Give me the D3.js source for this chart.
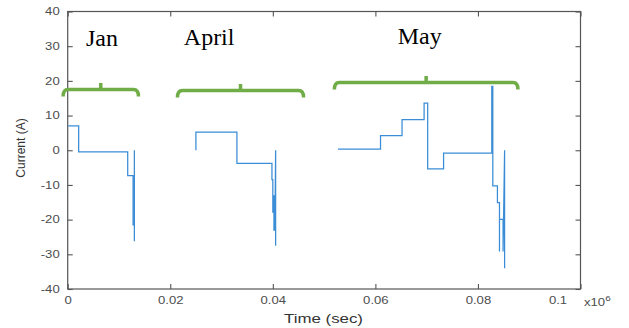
<!DOCTYPE html>
<html><head><meta charset="utf-8">
<script src="https://cdn.jsdelivr.net/npm/d3@7"></script>
<style>body{margin:0;background:#fff}</style></head>
<body><svg id="c" width="629" height="328"></svg>
<script>
// ---- data (time in units of 1e6 s, current in A) ----
const janT = [0, 0.00214, 0.00214, 0.0117, 0.0117, 0.01275, 0.01275, 0.0130, 0.0130, 0.0130];
const janI = [7, 7, -0.5, -0.5, -7.3, -7.3, -21.5, -21.5, 0, -26.2];
const aprT = [0.0250, 0.0250, 0.0330, 0.0330, 0.03983, 0.03983, 0.0400, 0.0400, 0.04022, 0.04022, 0.0404, 0.04055, 0.04055];
const aprI = [0, 5.2, 5.2, -3.8, -3.8, -8.5, -8.5, -18, -13, -23, -23, 0, -27.5];
const mayT = [0.0527, 0.0610, 0.0610, 0.0652, 0.0652, 0.0695, 0.0695, 0.0702, 0.0702, 0.0733, 0.0733, 0.0827, 0.0827, 0.0829, 0.0829, 0.0838, 0.0838, 0.0842, 0.0842, 0.0842, 0.0849, 0.0849, 0.0852, 0.0852];
const mayI = [0.3, 0.3, 4.2, 4.2, 8.8, 8.8, 13.6, 13.6, -5.4, -5.4, -0.8, -0.8, 18.4, 18.4, -10.3, -10.3, -15.1, -15.1, -29.2, -19.9, -19.9, -29.2, 0, -34];

const xTicks = [0, 0.02, 0.04, 0.06, 0.08, 0.1];
const yTicks = [-40, -30, -20, -10, 0, 10, 20, 30, 40];

// annotations
const monthLabels = ["Jan", "April", "May"];
const labelX = [0.00356, 0.02264, 0.06435];
const labelY = [30.0, 30.3, 30.5];
const braceStart = [-0.0009, 0.0214, 0.0520];
const braceEnd = [0.0138, 0.0460, 0.0878];
const braceLevel = [17.5, 17.2, 19.5];

// ---- layout ----
const L = 67.7, R = 580.5, T = 11.5, B = 289;
const SX = 1.25;
const svg = d3.select("#c");
const x = d3.scaleLinear().domain([0, 0.1]).range([L, R]);
const y = d3.scaleLinear().domain([-40, 40]).range([B, T]);

const axisColor = "#555";
const tickFont = "'Liberation Sans', Arial, Helvetica, sans-serif";

function styleAxis(g) {
  g.select(".domain").remove();
  g.selectAll(".tick line").attr("stroke", axisColor).attr("stroke-width", 1.1);
  g.selectAll(".tick text").attr("fill", "#4d4d4d").attr("font-size", 10.5).attr("font-family", tickFont);
}

// bottom
const gB = svg.append("g").attr("transform", `translate(0,${B})`)
  .call(d3.axisBottom(x).tickValues(xTicks).tickFormat(d => String(d)).tickSizeInner(-5).tickSizeOuter(0).tickPadding(8));
styleAxis(gB);
gB.selectAll(".tick text").attr("transform", `scale(${SX},1)`)
  .attr("x", d => d === 0.1 ? -23 / SX : 0);
// top
const gT = svg.append("g").attr("transform", `translate(0,${T})`)
  .call(d3.axisTop(x).tickValues(xTicks).tickFormat("").tickSizeInner(-5).tickSizeOuter(0));
styleAxis(gT);
// left
const gL = svg.append("g").attr("transform", `translate(${L},0)`)
  .call(d3.axisLeft(y).tickValues(yTicks).tickFormat(d => String(d)).tickSizeInner(-5).tickSizeOuter(0).tickPadding(8));
styleAxis(gL);
gL.selectAll(".tick text").attr("x", -8 / SX).attr("transform", `scale(${SX},1)`);
// right
const gR = svg.append("g").attr("transform", `translate(${R},0)`)
  .call(d3.axisRight(y).tickValues(yTicks).tickFormat("").tickSizeInner(-5).tickSizeOuter(0));
styleAxis(gR);

// frame
svg.append("rect").attr("x", L).attr("y", T).attr("width", R - L).attr("height", B - T)
  .attr("fill", "none").attr("stroke", axisColor).attr("stroke-width", 1.2);

// exponent
const ex = svg.append("text").attr("transform", `translate(584,306) scale(${SX},1)`)
  .attr("font-family", tickFont).attr("font-size", 10.5).attr("fill", "#4d4d4d");
ex.append("tspan").text("x10");
ex.append("tspan").attr("dy", -5).attr("font-size", 8).text("6");

// axis titles
svg.append("text").attr("transform", `translate(323.5,323) scale(${SX},1)`)
  .attr("text-anchor", "middle").attr("font-family", tickFont).attr("font-size", 13.5)
  .attr("fill", "#333").text("Time (sec)");
svg.append("text").attr("transform", `translate(25,148) rotate(-90)`)
  .attr("text-anchor", "middle").attr("font-family", tickFont).attr("font-size", 12)
  .attr("fill", "#333").text("Current (A)");

// series
const line = d3.line().x(d => x(d[0])).y(d => y(d[1]));
[[janT, janI], [aprT, aprI], [mayT, mayI]].forEach(([ts, is]) => {
  const pts = ts.map((t, i) => [t, is[i]]);
  svg.append("path").datum(pts).attr("d", line)
    .attr("fill", "none").attr("stroke", "#3a8dd6").attr("stroke-width", 1.25)
    .attr("stroke-linejoin", "miter");
});

// braces
const green = "#70ad47";
monthLabels.forEach((m, i) => {
  const x1 = x(braceStart[i]), x2 = x(braceEnd[i]), yh = y(braceLevel[i]);
  const xc = (x1 + x2) / 2;
  const p = d3.path();
  p.moveTo(x1, yh + 7);
  p.quadraticCurveTo(x1, yh, x1 + 5, yh);
  p.lineTo(x2 - 5, yh);
  p.quadraticCurveTo(x2, yh, x2, yh + 7);
  p.moveTo(xc, yh);
  p.lineTo(xc, yh - 6.5);
  svg.append("path").attr("d", p.toString()).attr("fill", "none")
    .attr("stroke", green).attr("stroke-width", 3.5);
  svg.append("text").attr("x", x(labelX[i])).attr("y", y(labelY[i]))
    .attr("font-family", "'Liberation Serif', 'Times New Roman', serif")
    .attr("font-size", 24).attr("fill", "#000").text(m);
});
</script>
</body></html>
